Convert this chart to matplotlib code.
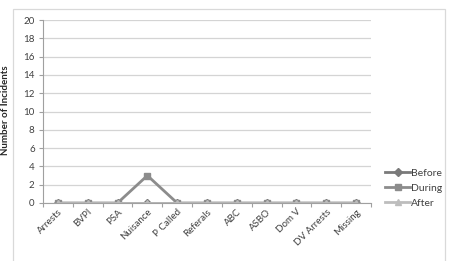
import matplotlib
matplotlib.use("Agg")
import matplotlib.pyplot as plt
import numpy as np
from matplotlib.patches import Rectangle

categories = ["Arrests", "BVPI", "PSA", "Nuisance", "P Called", "Referals",
              "ABC", "ASBO", "Dom V", "DV Arrests", "Missing"]
before = [0, 0, 0, 0, 0, 0, 0, 0, 0, 0, 0]
during = [0, 0, 0, 3, 0, 0, 0, 0, 0, 0, 0]
after = [0, 0, 0, 0, 0, 0, 0, 0, 0, 0, 0]
yticks = [0, 2, 4, 6, 8, 10, 12, 14, 16, 18, 20]

plt.rcParams['font.family'] = ['Lato', 'DejaVu Sans']
W, H = 450, 261
fig = plt.figure(figsize=(W / 100, H / 100), dpi=100)

# outer chart border
fig.patches.append(Rectangle((13 / W, -0.1), (445 - 13) / W, (H - 9) / H + 0.1,
                             transform=fig.transFigure, fill=False,
                             edgecolor="#d9d9d9", linewidth=0.9))

ax = fig.add_axes([43 / W, 1 - 203 / H, (371 - 43) / W, (203 - 20) / H])
x = np.arange(len(categories))
ax.plot(x, before, color="#7a7a7a", marker="D", markersize=4.5, linewidth=2, label="Before")
ax.plot(x, during, color="#8c8c8c", marker="s", markersize=5, linewidth=2, label="During")
ax.plot(x, after, color="#bdbdbd", marker="^", markersize=5, linewidth=2, label="After")

ax.set_xlim(-0.5, len(categories) - 0.5)
ax.set_ylim(0, 20)
ax.set_yticks(yticks)
ax.set_yticklabels([str(v) for v in yticks], fontsize=7, color="#404040")
ax.set_xticks(x)
ax.set_xticklabels(categories, rotation=45, ha="right", rotation_mode="anchor",
                   fontsize=7, color="#404040")
ax.tick_params(axis="x", length=0, pad=3)
ax.set_xticks(np.arange(-0.5, len(categories)), minor=True)
ax.tick_params(axis="x", which="minor", length=3, color="#a0a0a0", width=0.8)
ax.tick_params(axis="y", length=3, color="#a0a0a0", width=0.8, pad=3)
ax.grid(axis="y", color="#d4d4d4", linewidth=0.9)
ax.set_axisbelow(True)
for s in ["top", "right"]:
    ax.spines[s].set_visible(False)
ax.spines["left"].set_color("#a0a0a0")
ax.spines["bottom"].set_color("#a0a0a0")
ax.spines["left"].set_linewidth(0.8)
ax.spines["bottom"].set_linewidth(0.8)

fig.text(6 / W, 1 - 110 / H, "Number of Incidents", rotation=90, fontsize=7,
         fontweight="bold", ha="center", va="center", color="#262626")

leg = fig.legend(loc="center left", bbox_to_anchor=(380 / W, 1 - 188 / H),
                 frameon=False, fontsize=7.5, handlelength=2.4, handletextpad=0.1,
                 labelspacing=0.55, borderpad=0)
for t in leg.get_texts():
    t.set_color("#404040")

fig.savefig("out.png", dpi=100)
